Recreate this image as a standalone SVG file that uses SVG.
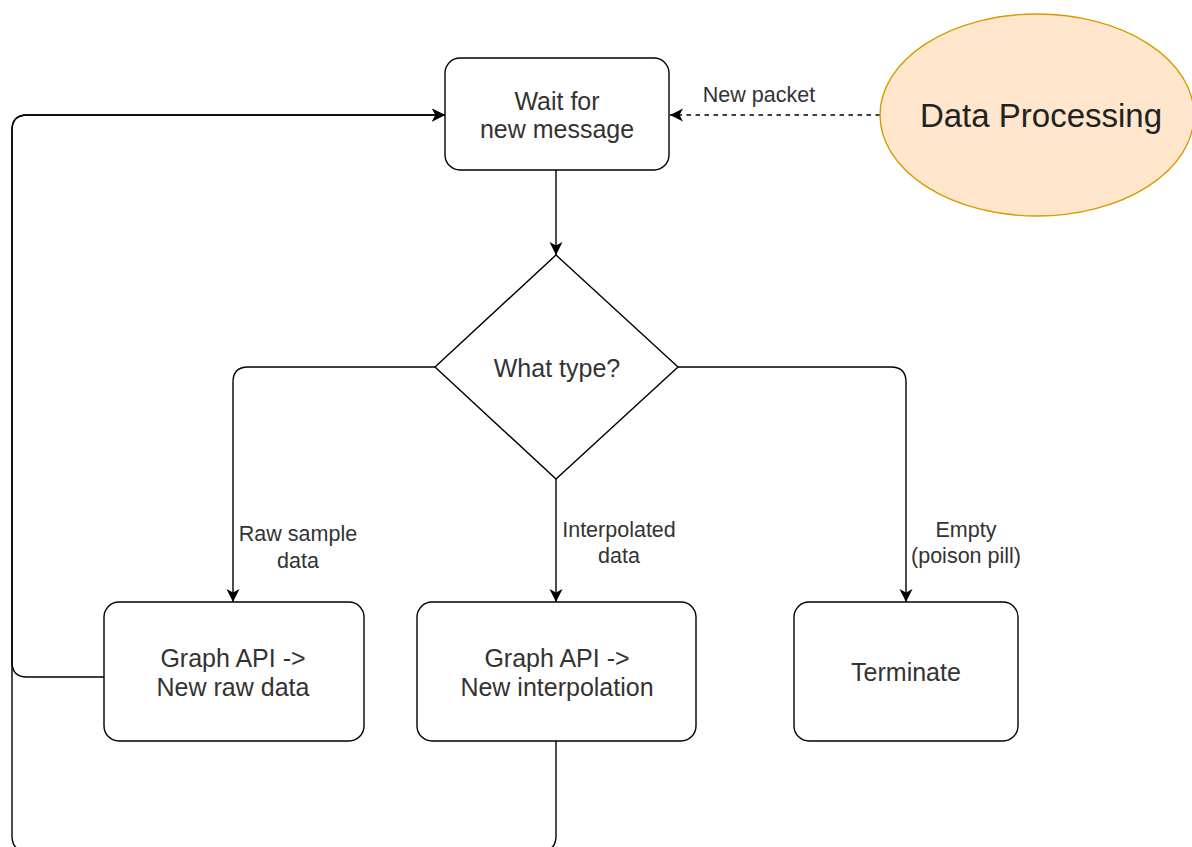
<svg xmlns="http://www.w3.org/2000/svg" width="1192" height="847" viewBox="0 0 1192 847">
  <defs>
    <marker id="arrow" markerUnits="userSpaceOnUse" markerWidth="14" markerHeight="14" refX="13" refY="6.5" orient="auto">
      <path d="M0,0 L13,6.5 L0,13 L3.5,6.5 Z" fill="#000"/>
    </marker>
    <style>
      .box { fill: #fff; stroke: #000; stroke-width: 1.4; }
      .edge { fill: none; stroke: #000; stroke-width: 1.4; marker-end: url(#arrow); }
      .dashed { stroke-dasharray: 4.5 4.5; }
      .txt { font-family: "Liberation Sans", Arial, sans-serif; font-size: 25px; fill: #333; text-anchor: middle; }
      .lbl { font-family: "Liberation Sans", Arial, sans-serif; font-size: 21.5px; fill: #333; text-anchor: middle; }
      .big { font-family: "Liberation Sans", Arial, sans-serif; font-size: 33px; fill: #222; text-anchor: middle; }
    </style>
  </defs>
  <rect width="1192" height="847" fill="#fff"/>

  <!-- connectors -->
  <g id="connectors">
    <path class="edge" d="M556,170 V255"/>
    <path class="edge" d="M435,367 H248 Q233,367 233,382 V602"/>
    <path class="edge" d="M556,479 V602"/>
    <path class="edge" d="M678,367 H891 Q906,367 906,382 V602"/>
    <path class="edge" d="M104,677 H27 Q12,677 12,662 V130 Q12,115 27,115 H445"/>
    <path class="edge" d="M556,741 V836 Q556,851 541,851 H27 Q12,851 12,836 V130 Q12,115 27,115 H445"/>
    <path class="edge dashed" d="M880,115 H670"/>
    <text class="lbl" x="759" y="102">New packet</text>
    <text class="lbl" x="298" y="541">Raw sample</text>
    <text class="lbl" x="298" y="568">data</text>
    <text class="lbl" x="619" y="537">Interpolated</text>
    <text class="lbl" x="619" y="563">data</text>
    <text class="lbl" x="966" y="537">Empty</text>
    <text class="lbl" x="966" y="563">(poison pill)</text>
  </g>

  <!-- nodes -->
  <g id="wait">
    <rect class="box" x="445" y="58" width="224" height="112" rx="15"/>
    <text class="txt" x="557" y="110">Wait for</text>
    <text class="txt" x="557" y="138">new message</text>
  </g>

  <g id="data-processing">
    <ellipse cx="1037" cy="115" rx="157" ry="101" fill="#ffe6cc" stroke="#d79b00" stroke-width="1.4"/>
    <text class="big" x="1041" y="127">Data Processing</text>
  </g>

  <g id="what-type">
    <polygon class="box" points="556,255 678,367 556,479 435,367"/>
    <text class="txt" x="557" y="377">What type?</text>
  </g>

  <g id="raw-data">
    <rect class="box" x="104" y="602" width="260" height="139" rx="15"/>
    <text class="txt" x="233" y="667">Graph API -&gt;</text>
    <text class="txt" x="233" y="696">New raw data</text>
  </g>

  <g id="interpolation">
    <rect class="box" x="417" y="602" width="279" height="139" rx="15"/>
    <text class="txt" x="557" y="667">Graph API -&gt;</text>
    <text class="txt" x="557" y="696">New interpolation</text>
  </g>

  <g id="terminate">
    <rect class="box" x="794" y="602" width="224" height="139" rx="15"/>
    <text class="txt" x="906" y="681">Terminate</text>
  </g>
</svg>
